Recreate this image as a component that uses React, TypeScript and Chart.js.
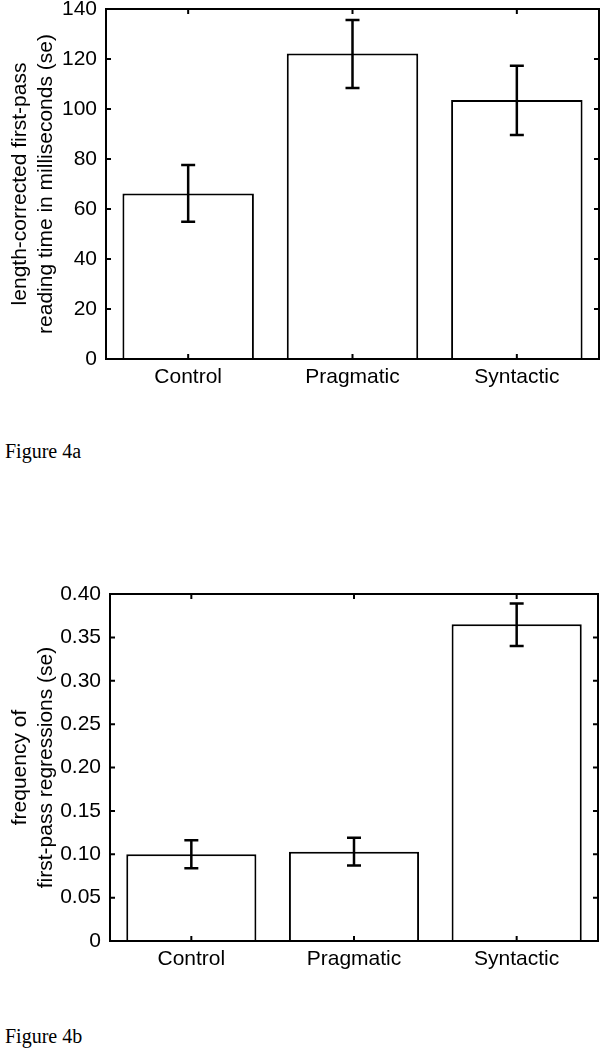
import React, { useEffect, useRef } from "react";
import { Chart, registerables } from "chart.js";

Chart.register(...registerables);

// ---------- data ----------
const categories = ["Control", "Pragmatic", "Syntactic"];

// Figure 4a: length-corrected first-pass reading time (ms), mean and ±se bounds
const readingMeans = [66.2, 122.2, 103.6];
const readingLow = [54.9, 108.4, 89.6];
const readingHigh = [77.6, 135.6, 117.3];
const readingAxisMax = 140;
const readingStep = 20;

// Figure 4b: frequency of first-pass regressions, mean and ±se bounds
const regressionMeans = [0.1, 0.103, 0.365];
const regressionLow = [0.084, 0.087, 0.34];
const regressionHigh = [0.116, 0.119, 0.389];
const regressionAxisMax = 0.4;
const regressionStep = 0.05;

const readingTitle = ["length-corrected first-pass", "reading time in milliseconds (se)"];
const regressionTitle = ["frequency of", "first-pass regressions (se)"];

const SANS = "'Liberation Sans', Arial, Helvetica, sans-serif";
const FS = 21;

type PanelProps = {
  top: number;
  height: number;
  means: number[];
  low: number[];
  high: number[];
  max: number;
  step: number;
  title: string[];
  yWidth: number;
  xHeight: number;
  padTop: number;
  padRight: number;
  format: (v: number) => string;
};

function Panel(p: PanelProps) {
  const ref = useRef<HTMLCanvasElement | null>(null);

  useEffect(() => {
    if (!ref.current) return;

    const errorBars = {
      id: "errorBars",
      afterDatasetsDraw(chart: any) {
        const ctx = chart.ctx;
        const meta = chart.getDatasetMeta(0);
        const y = chart.scales.y;
        ctx.save();
        ctx.strokeStyle = "#000";
        ctx.lineWidth = 2.5;
        ctx.lineCap = "butt";
        meta.data.forEach((bar: any, i: number) => {
          const x = bar.x;
          const yl = y.getPixelForValue(p.low[i]);
          const yh = y.getPixelForValue(p.high[i]);
          const cap = 7;
          ctx.beginPath();
          ctx.moveTo(x, yl);
          ctx.lineTo(x, yh);
          ctx.moveTo(x - cap, yl);
          ctx.lineTo(x + cap, yl);
          ctx.moveTo(x - cap, yh);
          ctx.lineTo(x + cap, yh);
          ctx.stroke();
        });
        ctx.restore();
      },
    };

    const frame = {
      id: "frame",
      afterDraw(chart: any) {
        const ctx = chart.ctx;
        const a = chart.chartArea;
        const xs = chart.scales.x;
        const ys = chart.scales.y;
        const len = 5;
        ctx.save();
        ctx.strokeStyle = "#000";
        ctx.lineWidth = 2;
        ctx.strokeRect(a.left, a.top, a.right - a.left, a.bottom - a.top);
        ctx.beginPath();
        categories.forEach((_, i) => {
          const px = xs.getPixelForValue(i);
          ctx.moveTo(px, a.bottom);
          ctx.lineTo(px, a.bottom - len);
          ctx.moveTo(px, a.top);
          ctx.lineTo(px, a.top + len);
        });
        ys.ticks.forEach((t: any) => {
          const py = ys.getPixelForValue(t.value);
          ctx.moveTo(a.left, py);
          ctx.lineTo(a.left + len, py);
          ctx.moveTo(a.right, py);
          ctx.lineTo(a.right - len, py);
        });
        ctx.stroke();
        ctx.restore();
      },
    };

    const chart = new Chart(ref.current, {
      type: "bar",
      data: {
        labels: categories,
        datasets: [
          {
            data: p.means,
            backgroundColor: "#ffffff",
            borderColor: "#000000",
            borderWidth: 2,
            categoryPercentage: 0.8,
            barPercentage: 1.0,
          },
        ],
      },
      options: {
        animation: false,
        responsive: false,
        devicePixelRatio: 1,
        layout: { padding: { top: p.padTop, right: p.padRight, left: 0, bottom: 0 } },
        plugins: {
          legend: { display: false },
          tooltip: { enabled: false },
        },
        scales: {
          x: {
            grid: { display: false, drawTicks: false },
            border: { display: false },
            ticks: {
              color: "#000",
              font: { family: SANS, size: FS },
              padding: 6,
              maxRotation: 0,
            },
            afterFit(scale: any) {
              scale.height = p.xHeight;
              scale.paddingLeft = 0;
              scale.paddingRight = 0;
            },
          },
          y: {
            min: 0,
            max: p.max,
            grid: { display: false, drawTicks: false },
            border: { display: false },
            ticks: {
              stepSize: p.step,
              color: "#000",
              font: { family: SANS, size: FS },
              padding: 9,
              callback: (v: any) => p.format(Number(v)),
            },
            title: {
              display: true,
              text: p.title,
              color: "#000",
              font: { family: SANS, size: FS, lineHeight: 1.25 },
              padding: { top: 7, bottom: 0 },
            },
            afterFit(scale: any) {
              scale.width = p.yWidth;
              scale.paddingTop = 0;
              scale.paddingBottom = 0;
            },
          },
        },
      },
      plugins: [errorBars, frame],
    } as any);

    return () => chart.destroy();
  }, []);

  return (
    <div style={{ position: "absolute", left: 0, top: p.top, width: 600, height: p.height }}>
      <canvas ref={ref} width={600} height={p.height} style={{ display: "block" }} />
    </div>
  );
}

const figStyle: React.CSSProperties = {
  position: "absolute",
  left: 5,
  fontFamily: "'Liberation Serif', 'Times New Roman', serif",
  fontSize: 20,
  lineHeight: "20px",
  color: "#000",
  whiteSpace: "nowrap",
};

export default function App() {
  return (
    <div
      style={{
        position: "absolute",
        left: 0,
        top: 0,
        width: 600,
        height: 1050,
        background: "#fff",
        overflow: "hidden",
      }}
    >
      <Panel
        top={0}
        height={400}
        means={readingMeans}
        low={readingLow}
        high={readingHigh}
        max={readingAxisMax}
        step={readingStep}
        title={readingTitle}
        yWidth={106}
        xHeight={41}
        padTop={9}
        padRight={1}
        format={(v) => String(Math.round(v))}
      />
      <div style={{ ...figStyle, top: 441 }}>Figure 4a</div>
      <Panel
        top={575}
        height={405}
        means={regressionMeans}
        low={regressionLow}
        high={regressionHigh}
        max={regressionAxisMax}
        step={regressionStep}
        title={regressionTitle}
        yWidth={110}
        xHeight={39}
        padTop={19}
        padRight={2}
        format={(v) => (Math.abs(v) < 1e-9 ? "0" : v.toFixed(2))}
      />
      <div style={{ ...figStyle, top: 1026 }}>Figure 4b</div>
    </div>
  );
}
